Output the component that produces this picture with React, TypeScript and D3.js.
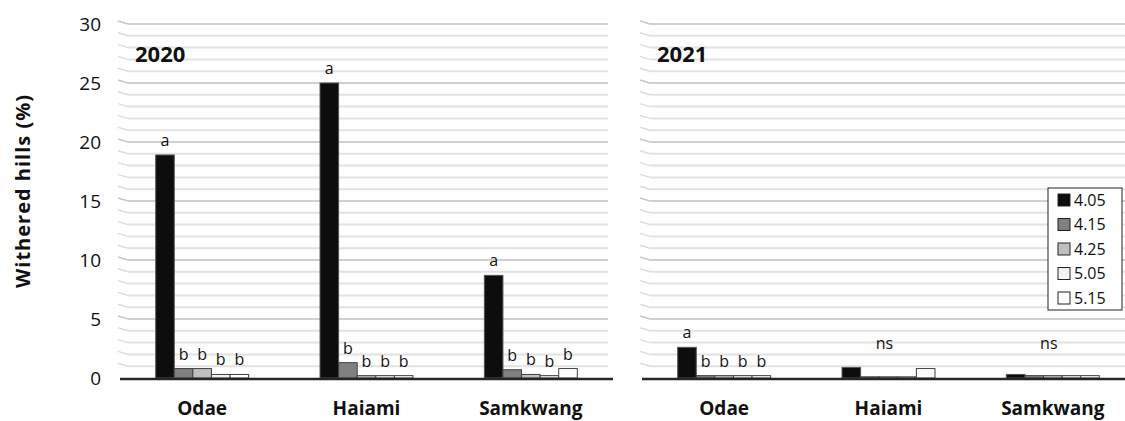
import React from "react";
import * as d3 from "d3";

// --- Data ---
const SITES = ["Odae", "Haiami", "Samkwang"];
const DATES = ["4.05", "4.15", "4.25", "5.05", "5.15"];
const YEARS = ["2020", "2021"];

// values per site, one entry per planting date
const VALUES_2020 = [
  [18.9, 0.8, 0.8, 0.3, 0.3],
  [25.0, 1.3, 0.2, 0.2, 0.2],
  [8.7, 0.7, 0.3, 0.2, 0.8],
];
const VALUES_2021 = [
  [2.6, 0.2, 0.2, 0.2, 0.2],
  [0.9, 0.1, 0.1, 0.1, 0.8],
  [0.3, 0.2, 0.2, 0.2, 0.2],
];
// significance letters (per bar), or one group label ("ns")
const LETTERS_2020 = [
  ["a", "b", "b", "b", "b"],
  ["a", "b", "b", "b", "b"],
  ["a", "b", "b", "b", "b"],
];
const LETTERS_2021 = [["a", "b", "b", "b", "b"], ["ns"], ["ns"]];
const Y_TICKS = [0, 5, 10, 15, 20, 25, 30];

const COLORS = ["#0d0d0d", "#808080", "#bfbfbf", "#f2f2f2", "#ffffff"];

const W = 1125;
const H = 421;
const Y0 = 378;
const Y1 = 24;
const PANELS = [
  { x0: 120, x1: 613 },
  { x0: 642, x1: 1135 },
];
const FONT = "'Open Sans', 'Noto Sans', Arial, sans-serif";

export default function App() {
  const y = d3.scaleLinear().domain([0, 30]).range([Y0, Y1]);
  const gridVals = d3.range(1, 31);
  const allValues = [VALUES_2020, VALUES_2021];
  const allLetters = [LETTERS_2020, LETTERS_2021];

  return (
    <svg
      width={W}
      height={H}
      style={{ position: "absolute", left: 0, top: 0, fontFamily: FONT }}
    >
      <rect width={W} height={H} fill="#fff" />
      {/* y axis title */}
      <text
        transform={`translate(30,191) rotate(-90)`}
        textAnchor="middle"
        fontSize={20}
        fontWeight="bold"
        letterSpacing={1}
        fill="#111"
      >
        Withered hills (%)
      </text>
      {/* y tick labels */}
      {Y_TICKS.map((t) => (
        <text
          key={t}
          x={101}
          y={y(t)}
          dy="0.36em"
          textAnchor="end"
          fontSize={19}
          fill="#111"
        >
          {t}
        </text>
      ))}

      {PANELS.map((p, pi) => {
        const x0 = d3.scaleBand().domain(SITES).range([p.x0, p.x1]);
        const x1 = d3
          .scaleBand()
          .domain(DATES)
          .range([0, x0.bandwidth()])
          .paddingOuter(1.92);
        const values = allValues[pi];
        const letters = allLetters[pi];
        return (
          <g key={pi}>
            {/* gridlines with slanted 3D edge */}
            {gridVals.map((v) => (
              <g key={v}>
                <line
                  x1={p.x0 - 2}
                  y1={y(v) - 3}
                  x2={p.x0 + 8}
                  y2={y(v)}
                  stroke={v % 5 === 0 ? "#c8c8c8" : "#dcdcdc"}
                  strokeWidth={1.5}
                />
                <line
                  x1={p.x0 + 8}
                  x2={Math.min(p.x1 - 5, W)}
                  y1={y(v)}
                  y2={y(v)}
                  stroke={v % 5 === 0 ? "#cfcfcf" : "#e2e2e2"}
                  strokeWidth={2}
                />
              </g>
            ))}
            {/* year label */}
            <text
              x={p.x0 + 15}
              y={62}
              fontSize={22}
              fontWeight="bold"
              fill="#111"
            >
              {YEARS[pi]}
            </text>
            {/* bars */}
            {SITES.map((s, si) => (
              <g key={s} transform={`translate(${x0(s)},0)`}>
                {DATES.map((d, di) => {
                  const v = values[si][di];
                  return (
                    <rect
                      key={d}
                      x={x1(d)}
                      y={y(v)}
                      width={x1.bandwidth()}
                      height={y(0) - y(v)}
                      fill={COLORS[di]}
                      stroke={di === 0 ? "#555" : "#404040"}
                      strokeWidth={1}
                    />
                  );
                })}
                {letters[si].length === 1 ? (
                  <text
                    x={(x1("4.25") || 0) + x1.bandwidth() / 2 - 4}
                    y={349}
                    textAnchor="middle"
                    fontSize={16}
                    fill="#111"
                  >
                    {letters[si][0]}
                  </text>
                ) : (
                  letters[si].map((l, di) => (
                    <text
                      key={di}
                      x={(x1(DATES[di]) || 0) + x1.bandwidth() / 2}
                      y={y(values[si][di]) - 9}
                      textAnchor="middle"
                      fontSize={16}
                      fill="#111"
                    >
                      {l}
                    </text>
                  ))
                )}
                <text
                  x={x0.bandwidth() / 2}
                  y={415}
                  textAnchor="middle"
                  fontSize={19}
                  fontWeight="bold"
                  fill="#111"
                >
                  {s}
                </text>
              </g>
            ))}
            {/* baseline */}
            <line
              x1={p.x0}
              x2={Math.min(p.x1, W)}
              y1={Y0 + 1}
              y2={Y0 + 1}
              stroke="#262626"
              strokeWidth={2.5}
            />
          </g>
        );
      })}

      {/* legend */}
      <g transform="translate(1048,188)">
        <rect
          width={74}
          height={122}
          fill="#fff"
          stroke="#222"
          strokeWidth={1}
        />
        {DATES.map((d, i) => (
          <g key={d} transform={`translate(0,${12 + i * 24.5})`}>
            <rect
              x={10}
              y={-6}
              width={12}
              height={12}
              fill={COLORS[i]}
              stroke="#222"
              strokeWidth={1}
            />
            <text x={26} y={0} dy="0.36em" fontSize={16} fill="#111">
              {d}
            </text>
          </g>
        ))}
      </g>
    </svg>
  );
}
